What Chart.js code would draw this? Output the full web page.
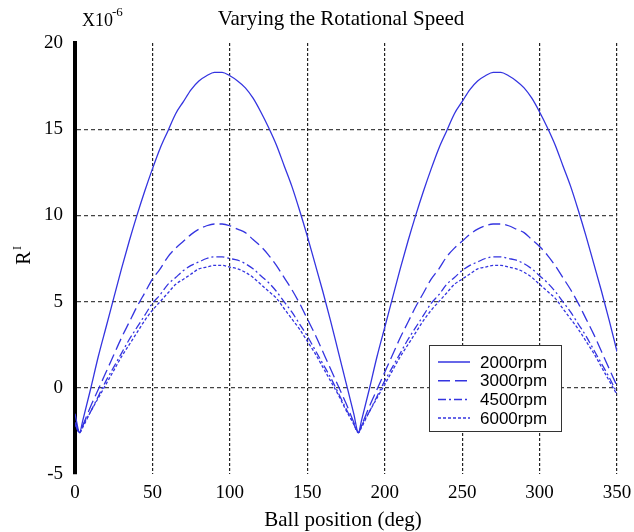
<!DOCTYPE html>
<html>
<head>
<meta charset="utf-8"/>
<title>Varying the Rotational Speed</title>
<script src="https://cdn.jsdelivr.net/npm/chart.js@4.4.1/dist/chart.umd.min.js"></script>
<style>
  body { margin: 0; background: #fff; }
</style>
</head>
<body>
<canvas id="rotChart" width="634" height="532"></canvas>
<script>
// ball position (deg)
const ballPos = [0, 3, 5, 10, 15, 20, 25, 30, 35, 40, 45, 50, 55, 60, 65, 70, 75, 80, 85, 90,
  95, 100, 105, 110, 115, 120, 125, 130, 135, 140, 145, 150, 155, 160, 165, 170, 175, 180, 183,
  185, 190, 195, 200, 205, 210, 215, 220, 225, 230, 235, 240, 245, 250, 255, 260, 265, 270,
  275, 280, 285, 290, 295, 300, 305, 310, 315, 320, 325, 330, 335, 340, 345, 350];

// R^I values, x10^-6
const rpm2000 = [-1.5, -2.6, -1.9, -0.1, 1.8, 3.5, 5.2, 6.9, 8.5, 10.0, 11.4, 12.7, 13.9, 14.9, 15.9, 16.6, 17.3, 17.8, 18.1, 18.3,
  18.3, 18.1, 17.8, 17.4, 16.8, 16.0, 15.1, 14.1, 12.9, 11.7, 10.3, 8.8, 7.2, 5.6, 3.9, 2.1, 0.3, -1.5, -2.6,
  -1.9, -0.1, 1.8, 3.5, 5.2, 6.9, 8.5, 10.0, 11.4, 12.7, 13.9, 14.9, 15.9, 16.6, 17.3, 17.8, 18.1, 18.3,
  18.3, 18.1, 17.8, 17.4, 16.8, 16.0, 15.1, 14.1, 12.9, 11.7, 10.3, 8.8, 7.2, 5.6, 3.9, 2.1];
const rpm3000 = [-2.0, -2.6, -2.2, -1.1, -0.1, 0.9, 1.9, 2.9, 3.8, 4.7, 5.5, 6.3, 6.9, 7.6, 8.1, 8.5, 8.9, 9.2, 9.4, 9.5,
  9.5, 9.4, 9.2, 9.0, 8.6, 8.2, 7.7, 7.1, 6.4, 5.7, 4.9, 4.0, 3.1, 2.1, 1.1, 0.1, -0.9, -2.0, -2.6,
  -2.2, -1.1, -0.1, 0.9, 1.9, 2.9, 3.8, 4.7, 5.5, 6.3, 6.9, 7.6, 8.1, 8.5, 8.9, 9.2, 9.4, 9.5,
  9.5, 9.4, 9.2, 9.0, 8.6, 8.2, 7.7, 7.1, 6.4, 5.7, 4.9, 4.0, 3.1, 2.1, 1.1, 0.1];
const rpm4500 = [-2.1, -2.6, -2.2, -1.4, -0.5, 0.4, 1.2, 2.0, 2.8, 3.5, 4.2, 4.9, 5.4, 6.0, 6.4, 6.8, 7.1, 7.3, 7.5, 7.6,
  7.6, 7.5, 7.4, 7.2, 6.9, 6.5, 6.1, 5.6, 5.0, 4.4, 3.7, 3.0, 2.2, 1.4, 0.6, -0.3, -1.2, -2.1, -2.6,
  -2.2, -1.4, -0.5, 0.4, 1.2, 2.0, 2.8, 3.5, 4.2, 4.9, 5.4, 6.0, 6.4, 6.8, 7.1, 7.3, 7.5, 7.6,
  7.6, 7.5, 7.4, 7.2, 6.9, 6.5, 6.1, 5.6, 5.0, 4.4, 3.7, 3.0, 2.2, 1.4, 0.6, -0.3];
const rpm6000 = [-2.1, -2.6, -2.3, -1.4, -0.6, 0.2, 1.0, 1.8, 2.5, 3.2, 3.9, 4.5, 5.0, 5.5, 6.0, 6.3, 6.6, 6.9, 7.0, 7.1,
  7.1, 7.0, 6.9, 6.7, 6.4, 6.0, 5.6, 5.2, 4.6, 4.0, 3.4, 2.7, 2.0, 1.2, 0.4, -0.4, -1.3, -2.1, -2.6,
  -2.3, -1.4, -0.6, 0.2, 1.0, 1.8, 2.5, 3.2, 3.9, 4.5, 5.0, 5.5, 6.0, 6.3, 6.6, 6.9, 7.0, 7.1,
  7.1, 7.0, 6.9, 6.7, 6.4, 6.0, 5.6, 5.2, 4.6, 4.0, 3.4, 2.7, 2.0, 1.2, 0.4, -0.4];

const seriesNames = ["2000rpm", "3000rpm", "4500rpm", "6000rpm"];
const seriesData = [rpm2000, rpm3000, rpm4500, rpm6000];
const seriesDash = [[], [12, 5], [8, 3, 2, 3], [3, 2]];

const chartTitle = "Varying the Rotational Speed";
const xTitle = "Ball position (deg)";

const blue = "#3434e0";
const serif = '"Liberation Serif", "Times New Roman", serif';

const datasets = seriesNames.map((name, i) => ({
  label: name,
  data: ballPos.map((x, j) => ({ x: x, y: seriesData[i][j] })),
  borderColor: blue,
  borderWidth: 1.3,
  borderDash: seriesDash[i],
  pointRadius: 0,
  cubicInterpolationMode: "monotone",
  fill: false
}));

// titles, axis labels and the boxed legend
const textPlugin = {
  id: "textPlugin",
  afterDraw(chart) {
    const ctx = chart.ctx;
    ctx.save();
    ctx.fillStyle = "#000";
    ctx.textBaseline = "alphabetic";

    ctx.font = "21px " + serif;
    ctx.textAlign = "center";
    ctx.fillText(chartTitle, 341, 25);

    ctx.font = "18px " + serif;
    ctx.textAlign = "left";
    ctx.fillText("X10", 82, 26);
    ctx.font = "13px " + serif;
    ctx.fillText("-6", 112, 16);

    ctx.font = "21px " + serif;
    ctx.textAlign = "center";
    ctx.fillText(xTitle, 343, 526);

    ctx.save();
    ctx.translate(30, 258);
    ctx.rotate(-Math.PI / 2);
    ctx.font = "20px " + serif;
    ctx.fillText("R", 0, 0);
    ctx.font = "12px " + serif;
    ctx.fillText("I", 10, -9);
    ctx.restore();

    // legend box
    const bx = 429, by = 345, bw = 132, bh = 86;
    ctx.fillStyle = "#fff";
    ctx.fillRect(bx, by, bw, bh);
    ctx.strokeStyle = "#333";
    ctx.lineWidth = 1;
    ctx.strokeRect(bx + 0.5, by + 0.5, bw, bh);
    ctx.font = '17px "Liberation Sans", Arial, sans-serif';
    ctx.textAlign = "left";
    ctx.textBaseline = "middle";
    seriesNames.forEach((name, i) => {
      const y = 362 + i * 18.7;
      ctx.strokeStyle = blue;
      ctx.lineWidth = 1.5;
      ctx.setLineDash(seriesDash[i]);
      ctx.beginPath();
      ctx.moveTo(438, y);
      ctx.lineTo(470, y);
      ctx.stroke();
      ctx.setLineDash([]);
      ctx.fillStyle = "#000";
      ctx.fillText(name, 480, y + 1);
    });
    ctx.restore();
  }
};

new Chart(document.getElementById("rotChart"), {
  type: "line",
  data: { datasets: datasets },
  options: {
    responsive: false,
    animation: false,
    layout: { padding: { top: 43, right: 17, left: 0, bottom: 0 } },
    plugins: {
      legend: { display: false },
      title: { display: false },
      tooltip: { enabled: false }
    },
    scales: {
      x: {
        type: "linear",
        min: 0,
        max: 350,
        afterFit: (s) => { s.height = 58; s.paddingLeft = 0; s.paddingRight = 0; },
        ticks: {
          stepSize: 50,
          padding: 8,
          color: "#000",
          font: { family: serif, size: 19 }
        },
        grid: {
          drawTicks: false,
          color: (c) => (c.tick && c.tick.value === 0 ? "rgba(0,0,0,0)" : "#222"),
          lineWidth: 1.2
        },
        border: { display: false, dash: [3, 2] }
      },
      y: {
        min: -5,
        max: 20,
        afterFit: (s) => { s.width = 75; s.paddingTop = 0; s.paddingBottom = 0; },
        ticks: {
          stepSize: 5,
          padding: 12,
          color: "#000",
          font: { family: serif, size: 19 }
        },
        grid: {
          drawTicks: false,
          color: (c) => (c.tick && (c.tick.value === -5 || c.tick.value === 20) ? "rgba(0,0,0,0)" : "#444"),
          lineWidth: 1.2
        },
        border: { display: true, color: "#000", width: 4, dash: [4, 3] }
      }
    }
  },
  plugins: [textPlugin]
});
</script>
</body>
</html>
